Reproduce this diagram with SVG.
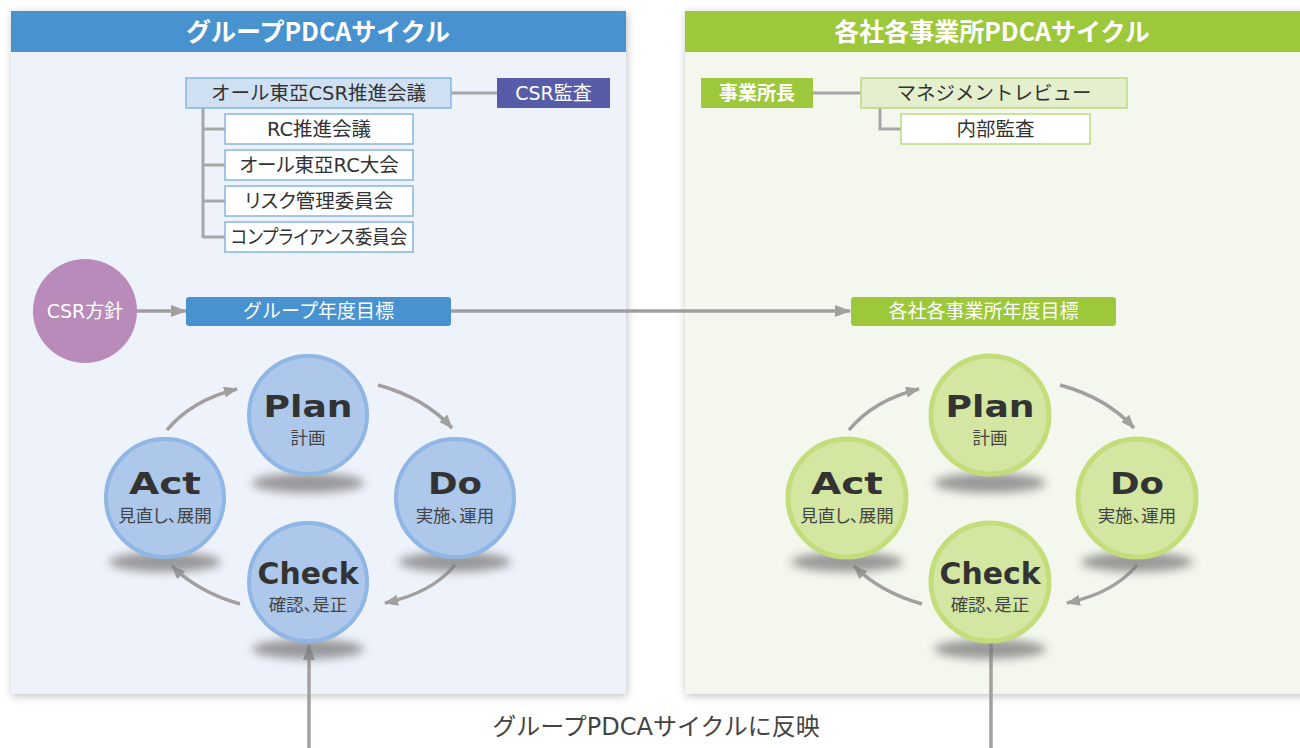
<svg xmlns="http://www.w3.org/2000/svg" width="1300" height="748" viewBox="0 0 1300 748">
<style>
.jp{font-family:"DejaVu Sans","Noto Sans CJK JP",sans-serif}
.cj{font-family:"Noto Sans CJK JP",sans-serif}
.hdr{font-size:25px;font-weight:bold;fill:#fff;text-anchor:middle}
.bx{font-size:19.5px;fill:#333;text-anchor:middle}
.wt{font-size:19px;fill:#fff;text-anchor:middle}
.pa{font-feature-settings:"palt"}
.big{font-family:"DejaVu Sans",sans-serif;font-weight:bold;font-size:30px;fill:#333;text-anchor:middle}
.sub{font-size:17.5px;fill:#444;text-anchor:middle}
.tree{stroke:#a7a7a7;stroke-width:3;fill:none}
.arr{stroke:#a39f9f;stroke-width:3.5;fill:none}
.bc{fill:#adc8ea;stroke:#8fb6e4;stroke-width:4}
.gc{fill:#d3e6a2;stroke:#c3dd7b;stroke-width:5}
.sh{fill:#7a7a7a;opacity:0.75}
</style>
<defs>
<filter id="ps" x="-5%" y="-5%" width="110%" height="110%"><feDropShadow dx="1" dy="2" stdDeviation="4" flood-color="#000" flood-opacity="0.25"/></filter>
<filter id="bl" x="-30%" y="-100%" width="160%" height="300%"><feGaussianBlur stdDeviation="5"/></filter>
<marker id="ah" viewBox="0 0 14 11" refX="13" refY="5.5" markerWidth="14" markerHeight="11" markerUnits="userSpaceOnUse" orient="auto"><path d="M0,0 L14,5.5 L0,11 z" fill="#a39f9f"/></marker>
<marker id="ah2" viewBox="0 0 16 12" refX="15" refY="6" markerWidth="16" markerHeight="12" markerUnits="userSpaceOnUse" orient="auto"><path d="M0,0 L16,6 L0,12 z" fill="#a39f9f"/></marker>
</defs>
<rect width="1300" height="748" fill="#fff"/>

<g id="panel-left">
<rect x="11" y="11" width="615" height="683" fill="#eef2fa" filter="url(#ps)"/>
<rect x="11" y="11" width="615" height="41" fill="#4892cf"/>
<text class="cj hdr" x="318" y="41">グループPDCAサイクル</text>
</g>
<g id="panel-right">
<rect x="685" y="11" width="625" height="683" fill="#f4f7ee" filter="url(#ps)"/>
<rect x="685" y="11" width="625" height="41" fill="#9dc83b"/>
<text class="cj hdr" x="992" y="41">各社各事業所PDCAサイクル</text>
</g>

<g id="connectors">
<line class="tree" x1="451" y1="93" x2="497" y2="93"/>
<path class="tree" d="M203,108 V238 M203,129 H225 M203,165 H225 M203,201 H225 M203,237 H225"/>
<line class="tree" x1="813" y1="93" x2="861" y2="93"/>
<path class="tree" d="M880,108 V129 H901"/>
<line class="arr" x1="137" y1="311" x2="186" y2="311" stroke-width="3" marker-end="url(#ah2)"/>
<line class="arr" x1="451" y1="311" x2="850" y2="311" stroke-width="3" marker-end="url(#ah2)"/>
<path class="arr" d="M167,430 Q192,400 237,389" marker-end="url(#ah)"/>
<path class="arr" d="M378,385 Q425,398 452,428" marker-end="url(#ah)"/>
<path class="arr" d="M455,565 Q432,593 385,603" marker-end="url(#ah)"/>
<path class="arr" d="M240,604 Q198,592 172,566" marker-end="url(#ah)"/>
<path class="arr" d="M849,430 Q874,400 919,389" marker-end="url(#ah)"/>
<path class="arr" d="M1060,385 Q1107,398 1134,428" marker-end="url(#ah)"/>
<path class="arr" d="M1137,565 Q1114,593 1067,603" marker-end="url(#ah)"/>
<path class="arr" d="M922,604 Q880,592 854,566" marker-end="url(#ah)"/>
<line class="arr" x1="309" y1="748" x2="309" y2="645" stroke-width="3" marker-end="url(#ah2)"/>
<line class="arr" x1="991" y1="643" x2="991" y2="748" stroke-width="3"/>
</g>

<g id="n-csr-kaigi"><rect x="186" y="78" width="265" height="30" fill="#cfe0f3" stroke="#86b5e2" stroke-width="1.5"/><text class="jp bx" x="318.5" y="100">オール東亞CSR推進会議</text></g>
<g id="n-csr-kansa"><rect x="497" y="78" width="113" height="30" fill="#575ca8"/><text class="jp wt" x="553.5" y="100" font-size="20">CSR監査</text></g>
<g id="n-rc-kaigi"><rect x="225" y="114" width="188" height="30" fill="#fff" stroke="#86b5e2" stroke-width="1.5"/><text class="jp bx" x="319" y="136">RC推進会議</text></g>
<g id="n-rc-taikai"><rect x="225" y="150" width="188" height="30" fill="#fff" stroke="#86b5e2" stroke-width="1.5"/><text class="jp bx pa" x="319" y="172">オール東亞RC大会</text></g>
<g id="n-risk"><rect x="225" y="186" width="188" height="30" fill="#fff" stroke="#86b5e2" stroke-width="1.5"/><text class="jp bx pa" x="319" y="208">リスク管理委員会</text></g>
<g id="n-comp"><rect x="225" y="222" width="188" height="30" fill="#fff" stroke="#86b5e2" stroke-width="1.5"/><text class="jp bx pa" x="319" y="244" textLength="176" lengthAdjust="spacingAndGlyphs">コンプライアンス委員会</text></g>

<g id="n-jigyoshocho"><rect x="701" y="78" width="112" height="30" fill="#9dc83b"/><text class="jp wt" x="757" y="100" font-weight="bold" font-size="18">事業所長</text></g>
<g id="n-review"><rect x="861" y="78" width="266" height="30" fill="#e4efcd" stroke="#b9da80" stroke-width="1.5"/><text class="jp bx" x="994" y="100" font-size="18">マネジメントレビュー</text></g>
<g id="n-naibu"><rect x="901" y="114" width="189" height="30" fill="#fff" stroke="#b9da80" stroke-width="1.5"/><text class="jp bx" x="995.5" y="136">内部監査</text></g>

<g id="n-csr-hoshin"><circle cx="85" cy="311" r="52" fill="#b98bbb"/><text class="jp wt" x="85" y="318" font-size="19.5">CSR方針</text></g>
<g id="n-group-goal"><rect x="186" y="297" width="265" height="29" rx="3" fill="#4892cf"/><text class="jp wt" x="318.5" y="318">グループ年度目標</text></g>
<g id="n-site-goal"><rect x="851" y="297" width="265" height="29" rx="3" fill="#9dc83b"/><text class="jp wt" x="983.5" y="318">各社各事業所年度目標</text></g>

<g id="n-plan-l"><ellipse class="sh" cx="308" cy="483" rx="56" ry="10" filter="url(#bl)"/><circle class="bc" cx="308" cy="415" r="59"/><text class="big" x="308" y="417" textLength="89" lengthAdjust="spacingAndGlyphs">Plan</text><text class="cj sub" x="308" y="444">計画</text></g>
<g id="n-act-l"><ellipse class="sh" cx="165" cy="562" rx="56" ry="10" filter="url(#bl)"/><circle class="bc" cx="165" cy="498" r="59"/><text class="big" x="165" y="494" textLength="72" lengthAdjust="spacingAndGlyphs">Act</text><text class="cj sub pa" x="165" y="522">見直し、展開</text></g>
<g id="n-do-l"><ellipse class="sh" cx="455" cy="562" rx="56" ry="10" filter="url(#bl)"/><circle class="bc" cx="455" cy="498" r="59"/><text class="big" x="455" y="494" textLength="54" lengthAdjust="spacingAndGlyphs">Do</text><text class="cj sub pa" x="455" y="522">実施、運用</text></g>
<g id="n-check-l"><ellipse class="sh" cx="308" cy="649" rx="56" ry="10" filter="url(#bl)"/><circle class="bc" cx="308" cy="582" r="59"/><text class="big" x="308" y="584" textLength="101" lengthAdjust="spacingAndGlyphs">Check</text><text class="cj sub pa" x="308" y="611">確認、是正</text></g>

<g id="n-plan-r"><ellipse class="sh" cx="990" cy="483" rx="56" ry="10" filter="url(#bl)"/><circle class="gc" cx="990" cy="415" r="59"/><text class="big" x="990" y="417" textLength="89" lengthAdjust="spacingAndGlyphs">Plan</text><text class="cj sub" x="990" y="444">計画</text></g>
<g id="n-act-r"><ellipse class="sh" cx="847" cy="562" rx="56" ry="10" filter="url(#bl)"/><circle class="gc" cx="847" cy="498" r="59"/><text class="big" x="847" y="494" textLength="72" lengthAdjust="spacingAndGlyphs">Act</text><text class="cj sub pa" x="847" y="522">見直し、展開</text></g>
<g id="n-do-r"><ellipse class="sh" cx="1137" cy="562" rx="56" ry="10" filter="url(#bl)"/><circle class="gc" cx="1137" cy="498" r="59"/><text class="big" x="1137" y="494" textLength="54" lengthAdjust="spacingAndGlyphs">Do</text><text class="cj sub pa" x="1137" y="522">実施、運用</text></g>
<g id="n-check-r"><ellipse class="sh" cx="990" cy="649" rx="56" ry="10" filter="url(#bl)"/><circle class="gc" cx="990" cy="582" r="59"/><text class="big" x="990" y="584" textLength="101" lengthAdjust="spacingAndGlyphs">Check</text><text class="cj sub pa" x="990" y="611">確認、是正</text></g>

<text class="jp" x="656" y="735" font-size="24" fill="#444" text-anchor="middle">グループPDCAサイクルに反映</text>
</svg>
